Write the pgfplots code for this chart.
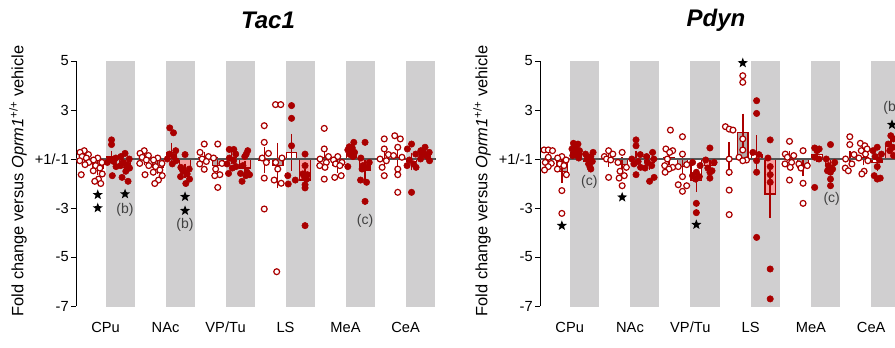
\documentclass[border=0pt]{standalone}
\usepackage{pgfplots}
\pgfplotsset{compat=1.18}
\usepackage{pgfplotstable}
\usepackage{fontspec}
\setmainfont{Liberation Sans}
\definecolor{dred}{RGB}{170,0,0}
\definecolor{band}{RGB}{208,207,208}
\definecolor{gbar}{RGB}{178,168,168}
\definecolor{pbar}{RGB}{245,160,160}
\definecolor{zline}{RGB}{85,85,85}
\definecolor{annot}{RGB}{64,64,64}

\pgfdeclareplotmark{fstar}{%
 \pgfpathmoveto{\pgfpointpolar{90}{\pgfplotmarksize}}%
 \pgfpathlineto{\pgfpointpolar{126}{0.42\pgfplotmarksize}}%
 \pgfpathlineto{\pgfpointpolar{162}{\pgfplotmarksize}}%
 \pgfpathlineto{\pgfpointpolar{198}{0.42\pgfplotmarksize}}%
 \pgfpathlineto{\pgfpointpolar{234}{\pgfplotmarksize}}%
 \pgfpathlineto{\pgfpointpolar{270}{0.42\pgfplotmarksize}}%
 \pgfpathlineto{\pgfpointpolar{306}{\pgfplotmarksize}}%
 \pgfpathlineto{\pgfpointpolar{342}{0.42\pgfplotmarksize}}%
 \pgfpathlineto{\pgfpointpolar{18}{\pgfplotmarksize}}%
 \pgfpathlineto{\pgfpointpolar{54}{0.42\pgfplotmarksize}}%
 \pgfpathclose\pgfusepathqfill}

% bars: x, mean (plot units: +1/-1 -> 0), sem
\pgfplotstableread{
x y e
0.55 0.02 0.08
4.55 0.00 0.10
8.55 0.04 0.10
12.55 -0.05 0.36
16.55 0.05 0.15
20.55 0.03 0.15
}\tacA
\pgfplotstableread{
x y e
1.45 -0.37 0.12
5.45 -0.34 0.12
9.45 -0.27 0.20
13.45 -0.27 0.77
17.45 -0.27 0.12
21.45 0.05 0.34
}\tacB
\pgfplotstableread{
x y e
2.37 0.08 0.10
6.37 0.27 0.23
10.37 0.05 0.10
14.37 0.27 0.59
18.37 0.23 0.10
22.37 -0.10 0.20
}\tacC
\pgfplotstableread{
x y e
3.27 -0.34 0.12
7.27 -0.48 0.13
11.27 -0.37 0.14
15.27 -0.86 0.27
19.27 -0.45 0.25
23.27 0.23 0.08
}\tacD
\pgfplotstableread{
x y e
0.55 0.03 0.10
4.55 0.00 0.15
8.55 0.05 0.15
12.55 0.00 0.53
16.55 0.00 0.15
20.55 0.02 0.15
}\pdyA
\pgfplotstableread{
x y e
1.45 -0.50 0.32
5.45 -0.23 0.15
9.45 -0.30 0.22
13.45 1.09 0.60
17.45 -0.34 0.20
21.45 0.05 0.15
}\pdyB
\pgfplotstableread{
x y e
2.37 0.27 0.07
6.37 0.03 0.15
10.37 -0.88 0.30
14.37 0.20 0.60
18.37 0.18 0.15
22.37 -0.14 0.20
}\pdyC
\pgfplotstableread{
x y e
3.27 -0.08 0.08
7.27 -0.14 0.13
11.27 -0.27 0.13
15.27 -1.43 0.80
19.27 -0.27 0.15
23.27 0.54 0.12
}\pdyD

\pgfplotstableread{
x y
0.55 0.34
0.27 0.27
0.83 0.18
0.41 0.10
0.69 0.04
0.25 -0.07
0.85 -0.14
0.60 -0.23
0.35 -0.64
1.45 0.04
1.17 -0.04
1.73 -0.14
1.31 -0.27
1.59 -0.37
1.15 -0.48
1.75 -0.61
1.50 -0.82
1.25 -0.91
1.65 -1.00
4.55 0.34
4.27 0.23
4.83 0.14
4.41 0.07
4.69 -0.04
4.25 -0.18
4.85 -0.27
4.60 -0.64
5.45 0.04
5.17 -0.04
5.73 -0.18
5.31 -0.31
5.59 -0.45
5.15 -0.54
5.75 -0.68
5.50 -0.86
5.25 -1.00
8.55 0.61
8.27 0.27
8.83 0.10
8.41 0
8.69 -0.10
8.25 -0.20
8.55 -0.42
9.45 0.61
9.17 0.04
9.73 -0.18
9.31 -0.41
9.59 -0.64
9.25 -0.68
9.45 -1.16
12.55 1.36
12.55 0.68
12.83 0.23
12.41 0.04
12.69 -0.14
12.55 -0.78
12.55 -2.04
13.30 2.22
13.65 2.22
13.73 0.04
13.31 -0.14
13.45 -0.41
13.21 -0.86
13.68 -0.99
13.38 -4.60
16.55 1.25
16.55 0.41
16.83 0.10
16.27 0
16.69 -0.14
16.25 -0.27
16.60 -0.34
16.55 -0.82
17.45 0.10
17.17 -0.04
17.73 -0.14
17.31 -0.20
17.59 -0.27
17.68 -0.68
17.25 -0.75
20.55 0.82
20.55 0.41
20.83 0.18
20.27 0
20.69 -0.07
20.41 -0.34
20.55 -0.68
21.25 0.95
21.62 0.82
21.45 0.48
21.17 0.14
21.73 0.07
21.45 -0.41
21.45 -0.64
21.45 -1.36
}\tacOpen

\pgfplotstableread{
x y
2.37 0.78
2.37 0.59
2.65 0.04
2.23 -0.04
2.51 -0.10
2.09 -0.14
2.67 -0.31
2.42 -0.68
3.27 0.23
2.99 0.10
3.55 0
3.13 -0.14
3.41 -0.23
2.97 -0.27
3.57 -0.37
3.32 -0.50
3.07 -0.75
3.47 -0.91
6.25 1.27
6.50 1.07
6.65 0.34
6.23 0.20
6.51 0.10
6.09 0
6.67 -0.07
6.42 -0.20
7.27 0.18
6.99 -0.34
7.55 -0.41
7.13 -0.50
7.41 -0.61
6.97 -0.72
7.57 -0.82
7.32 -1.00
10.22 0.39
10.52 0.39
10.65 0.20
10.23 0.04
10.51 -0.07
10.07 -0.20
10.67 -0.31
10.42 -0.37
10.17 -0.59
11.45 0.34
11.35 0.20
11.25 0.10
11.13 -0.27
11.41 -0.54
10.97 -0.59
11.57 -0.64
11.32 -0.68
11.07 -0.91
14.37 2.18
14.37 1.66
14.37 0.54
14.12 -0.68
14.62 -0.86
14.15 -1.02
15.27 0.20
15.27 -0.27
15.12 -0.61
15.42 -0.64
15.22 -0.72
15.37 -0.82
15.27 -1.05
15.27 -1.18
15.27 -2.72
18.52 0.68
18.22 0.50
18.42 0.45
18.12 0.37
18.57 0.27
18.27 0.18
18.47 0.10
18.12 -0.31
19.27 0.68
18.99 0.04
19.55 -0.14
19.13 -0.27
19.41 -0.34
19.07 -0.41
18.97 -0.86
19.37 -0.95
19.27 -1.73
22.37 0.61
22.09 0.41
22.65 0.20
22.23 -0.04
22.51 -0.20
22.07 -0.27
22.67 -0.34
22.37 -1.36
23.27 0.48
22.99 0.34
23.55 0.27
23.13 0.18
23.41 0.10
22.97 0
23.57 -0.07
}\tacFill

\pgfplotstableread{
x y
0.27 0.37
0.55 0.37
0.83 0.34
0.55 0.07
0.35 -0.14
0.75 -0.18
0.55 -0.31
0.30 -0.45
1.45 0.10
1.17 0.04
1.73 -0.04
1.31 -0.20
1.59 -0.27
1.15 -0.41
1.75 -0.64
1.45 -1.29
1.45 -2.22
4.55 0.34
4.83 0.20
4.27 0.10
4.41 0
4.69 -0.04
4.55 -0.75
5.45 0.27
5.17 -0.14
5.73 -0.34
5.31 -0.50
5.59 -0.68
5.25 -0.78
5.45 -1.09
8.65 1.18
8.35 0.41
8.80 0.34
8.60 0.27
8.45 0
8.27 -0.27
8.80 -0.34
8.55 -0.41
8.30 -0.54
9.45 0.91
9.45 0.20
9.73 -0.23
9.17 -0.31
9.45 -0.72
9.17 -1.05
9.73 -1.09
9.45 -1.32
12.30 1.32
12.55 1.22
12.80 1.18
12.55 0
12.55 -0.54
12.55 -1.27
12.55 -2.27
13.45 3.40
13.45 3.13
13.45 0.82
13.45 0.37
13.20 0.07
13.70 -0.04
13.45 -0.07
16.55 0.72
16.27 0.20
16.83 0.14
16.41 0.07
16.69 -0.14
16.25 -0.20
16.60 -0.34
16.55 -0.86
17.45 0.34
17.17 -0.20
17.73 -0.27
17.31 -0.37
17.45 -0.99
17.45 -1.81
20.55 0.91
20.55 0.59
20.83 0.18
20.27 0
20.69 -0.20
20.25 -0.37
20.45 -0.48
21.25 0.64
21.55 0.54
21.70 0.41
21.31 0.34
21.59 0.20
21.15 0.04
21.75 -0.07
21.50 -0.50
21.35 -0.61
}\pdyOpen

\pgfplotstableread{
x y
2.22 0.64
2.52 0.61
2.37 0.48
2.12 0.41
2.62 0.34
2.27 0.27
2.47 0.20
2.17 0.14
2.57 0.04
3.52 0.27
3.02 0.20
3.37 0.10
3.12 0
3.47 -0.10
3.22 -0.20
3.32 -0.34
3.37 -0.41
6.37 0.78
6.37 0.54
6.65 0.18
6.09 0
6.51 -0.10
6.23 -0.20
6.67 -0.34
6.37 -0.64
7.47 0.27
7.07 0.10
7.55 0
7.13 -0.14
7.41 -0.27
6.97 -0.37
7.57 -0.75
7.27 -0.91
10.12 -0.14
10.62 -0.27
10.37 -0.54
10.12 -0.68
10.57 -0.72
10.32 -0.82
10.37 -1.81
10.37 -2.19
11.27 0.45
10.99 -0.04
11.55 -0.14
11.13 -0.37
11.41 -0.48
11.27 -0.54
11.27 -0.78
14.37 2.38
14.37 1.86
14.12 0.27
14.52 0.18
14.37 -0.07
14.37 -0.54
14.37 -3.20
15.27 0.78
15.12 0.04
15.27 -0.31
15.27 -0.64
15.27 -0.95
15.27 -4.49
15.27 -5.71
18.22 0.45
18.52 0.41
18.37 0.34
18.23 0.07
18.51 0
18.22 -1.16
19.27 0.59
18.99 0
19.55 -0.14
19.13 -0.27
19.41 -0.41
19.07 -0.48
19.27 -0.54
19.27 -0.82
19.27 -1.09
22.37 0.48
22.09 0.34
22.65 0.20
22.23 0.10
22.51 -0.04
22.37 -0.31
22.17 -0.68
22.57 -0.78
22.37 -0.82
23.27 0.95
23.45 0.82
23.10 0.61
23.40 0.48
23.20 0.34
23.45 0.14
}\pdyFill

\pgfplotsset{
 panel/.style={
  scale only axis, anchor=south west, height=183.75pt,
  xmin=0, xmax=24, ymin=-6, ymax=4,
  axis y line*=left, axis x line*=bottom,
  x axis line style={draw=none},
  y axis line style={black, line width=0.75pt},
  ytick={-6,-4,-2,0,2,4}, yticklabels={-7,-5,-3,+1/-1,3,5},
  xtick={1.97,5.97,9.97,13.97,17.97,21.97},
  xticklabels={CPu,NAc,VP/Tu,LS,MeA,CeA},
  tick align=outside, major tick length=3.75pt,
  ytick style={black, line width=0.75pt},
  xtick style={draw=none},
  ticklabel style={font=\fontsize{11}{13}\selectfont},
  yticklabel style={inner sep=1.5pt},
  xticklabel style={anchor=base, yshift=-16pt},
 },
 bars/.style={ybar, bar width=0.7, bar shift=0pt, draw=dred, line width=0.9pt,
  error bars/y dir=both, error bars/y explicit,
  error bars/error bar style={dred, line width=1.1pt},
  error bars/error mark options={dred, line width=1.1pt, mark size=3pt}},
 openpts/.style={only marks, mark=*, mark size=2.2pt,
  mark options={draw=dred, fill=white, line width=0.9pt}},
 fillpts/.style={only marks, mark=*, mark size=2.4pt,
  mark options={draw=dred, fill=dred}},
 stars/.style={only marks, mark=fstar, mark size=4pt, mark options={fill=black, draw=none}},
}

\begin{document}
\begin{tikzpicture}
\useasboundingbox (0,0) rectangle (671.25pt,260.25pt);
\clip (0,0) rectangle (671.25pt,260.25pt);

% ---------- Tac1 ----------
\begin{axis}[panel, at={(57pt,30.75pt)}, width=270pt]
 \foreach \b in {1.97,5.97,9.97,13.97,17.97,21.97}{
  \edef\tmp{\noexpand\fill[band] (axis cs:\b,-6.05) rectangle (axis cs:{\b+1.95},4);}\tmp
 }
 \addplot[bars, fill=white] table[x=x,y=y,y error=e] {\tacA};
 \addplot[bars, fill=gbar] table[x=x,y=y,y error=e] {\tacB};
 \addplot[bars, fill=white] table[x=x,y=y,y error=e] {\tacC};
 \addplot[bars, fill=pbar] table[x=x,y=y,y error=e] {\tacD};
 \addplot[zline, line width=1.1pt] coordinates {(0,0) (24,0)};
 \addplot[openpts] table[x=x,y=y] {\tacOpen};
 \addplot[fillpts] table[x=x,y=y] {\tacFill};
 \addplot[stars] coordinates {(1.45,-1.46) (1.45,-2.0) (3.27,-1.43) (7.27,-1.54) (7.27,-2.11)};
 \node[font=\fontsize{10.5}{12}\selectfont, text=annot] at (axis cs:3.27,-2.08) {(b)};
 \node[font=\fontsize{10.5}{12}\selectfont, text=annot] at (axis cs:7.27,-2.68) {(b)};
 \node[font=\fontsize{10.5}{12}\selectfont, text=annot] at (axis cs:19.27,-2.54) {(c)};
\end{axis}

% ---------- Pdyn ----------
\begin{axis}[panel, at={(405pt,30.75pt)}, width=271.35pt]
 \foreach \b in {1.97,5.97,9.97,13.97,17.97,21.97}{
  \edef\tmp{\noexpand\fill[band] (axis cs:\b,-6.05) rectangle (axis cs:{\b+1.95},4);}\tmp
 }
 \addplot[bars, fill=white] table[x=x,y=y,y error=e] {\pdyA};
 \addplot[bars, fill=gbar] table[x=x,y=y,y error=e] {\pdyB};
 \addplot[bars, fill=white] table[x=x,y=y,y error=e] {\pdyC};
 \addplot[bars, fill=pbar] table[x=x,y=y,y error=e] {\pdyD};
 \addplot[zline, line width=1.1pt] coordinates {(0,0) (24,0)};
 \addplot[openpts] table[x=x,y=y] {\pdyOpen};
 \addplot[fillpts] table[x=x,y=y] {\pdyFill};
 \addplot[stars] coordinates {(1.45,-2.72) (5.45,-1.56) (10.37,-2.68) (13.45,3.92) (23.35,1.4)};
 \node[font=\fontsize{10.5}{12}\selectfont, text=annot] at (axis cs:3.27,-0.93) {(c)};
 \node[font=\fontsize{10.5}{12}\selectfont, text=annot] at (axis cs:19.35,-1.63) {(c)};
 \node[font=\fontsize{10.5}{12}\selectfont, text=annot] at (axis cs:23.35,2.08) {(b)};
\end{axis}

% titles and y labels
\node[font=\fontsize{18}{20}\selectfont\bfseries\itshape] at (201pt,245.25pt) {Tac1};
\node[font=\fontsize{18}{20}\selectfont\bfseries\itshape] at (537pt,245.25pt) {Pdyn};
\node[rotate=90, font=\fontsize{12.3}{14}\selectfont] at (13.5pt,124.5pt) {Fold change versus \textit{Oprm1}\textsuperscript{+/+} vehicle};
\node[rotate=90, font=\fontsize{12.3}{14}\selectfont] at (361.5pt,124.5pt) {Fold change versus \textit{Oprm1}\textsuperscript{+/+} vehicle};
\end{tikzpicture}
\end{document}
